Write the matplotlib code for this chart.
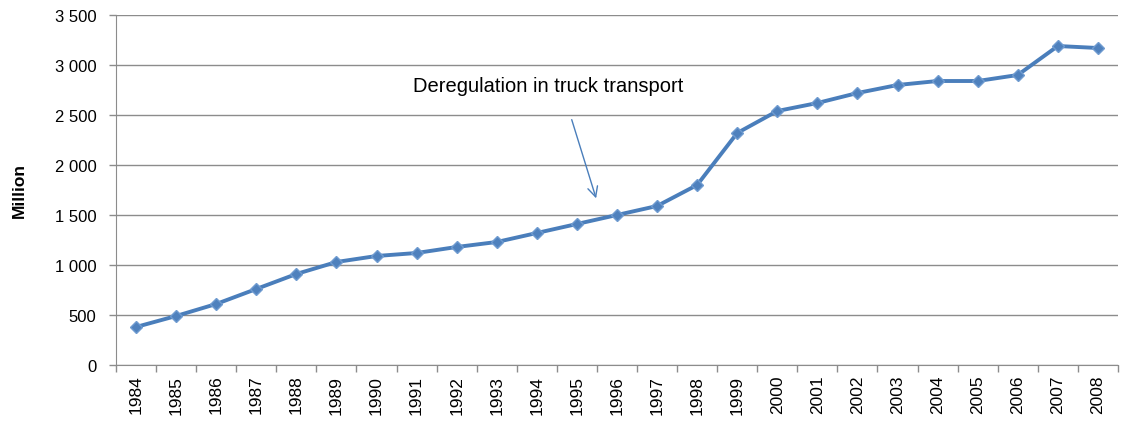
import numpy as np
import matplotlib.pyplot as plt

years = [str(y) for y in range(1984, 2009)]
values = [380, 490, 610, 760, 910, 1030, 1090, 1120, 1180, 1230,
          1320, 1410, 1500, 1590, 1800, 2320, 2540, 2620, 2720, 2800,
          2840, 2840, 2900, 3190, 3170]
yticks = [0, 500, 1000, 1500, 2000, 2500, 3000, 3500]
ytick_labels = ["0", "500", "1 000", "1 500", "2 000", "2 500", "3 000", "3 500"]

plt.rcParams['font.family'] = ['Liberation Sans', 'DejaVu Sans']

fig = plt.figure(figsize=(11.22, 4.27), dpi=100)
ax = fig.add_axes([0.1034, 0.1429, 0.893, 0.8196])

x = np.arange(len(years))
ax.plot(x, values, color='#4A7EBB', lw=2.8, marker='D', ms=6.5,
        mfc='#4F81BD', mec='#6F9BD0', zorder=3)

ax.set_xlim(-0.5, len(years) - 0.5)
ax.set_ylim(0, 3500)
ax.set_yticks(yticks)
ax.set_yticklabels(ytick_labels, fontsize=12)
ax.yaxis.grid(True, color='#8C8C8C', lw=1)
ax.set_axisbelow(True)

# category labels centred, tick marks between categories
ax.set_xticks(x)
ax.set_xticklabels(years, rotation=90, fontsize=12.5)
ax.tick_params(axis='x', length=0, pad=7)
ax.set_xticks(np.arange(-0.5, len(years)), minor=True)
ax.tick_params(axis='x', which='minor', length=5, color='#8C8C8C', width=1)
ax.tick_params(axis='y', length=5, color='#8C8C8C', width=1, pad=9)

for s in ['top', 'right']:
    ax.spines[s].set_visible(False)
for s in ['left', 'bottom']:
    ax.spines[s].set_color('#8C8C8C')

ax.set_ylabel('Million', fontweight='bold', fontsize=12.5, labelpad=20)

ax.text(6.9, 2800, 'Deregulation in truck transport', fontsize=14.5,
        va='center', ha='left')
ax.annotate('', xy=(11.5, 1640), xytext=(10.85, 2480),
            arrowprops=dict(arrowstyle='->', color='#4A7EBB', lw=1,
                            mutation_scale=18))

fig.savefig('out.png', dpi=100)
